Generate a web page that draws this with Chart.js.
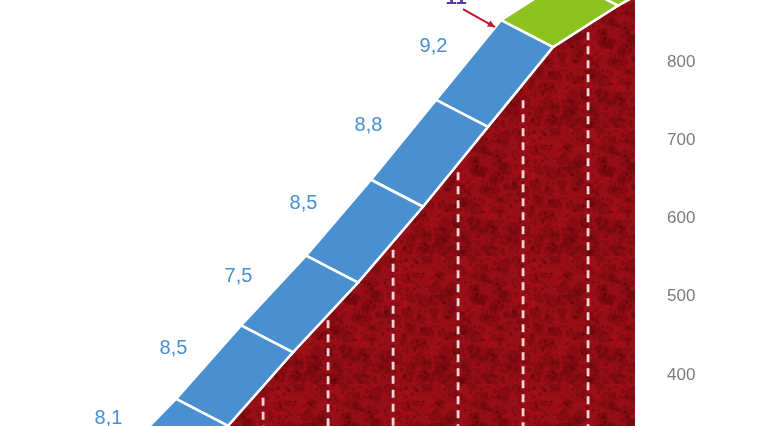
<!DOCTYPE html>
<html>
<head>
<meta charset="utf-8">
<title>Perfil</title>
<script src="https://cdn.jsdelivr.net/npm/chart.js@4.4.1/dist/chart.umd.min.js"></script>
<style>
  html, body { margin: 0; padding: 0; background: #fff; }
  canvas { display: block; }
</style>
</head>
<body>
<canvas id="profile" width="760" height="426"></canvas>
<script>
// ---------- Data ----------

// km marks along the climb and altitude (m) at each mark
const kmMarks = [3, 4, 5, 6, 7, 8, 9, 10, 11];
const altitudes = [250, 335, 429, 518, 615, 717, 819, 872, 918];

// gradient (%) written next to each km block, null = not visible
const gradientLabels = ['8,1', '8,5', '7,5', '8,5', '8,8', '9,2', null, null];
// block colour group: 'b' = blue, 'g' = green
const blockGroups = ['b', 'b', 'b', 'b', 'b', 'b', 'g', 'g'];

// dashed marker lines inside the red face: position (km) and top altitude (m)
const markerKm = [4.54, 5.54, 6.54, 7.54, 8.54, 9.54];
const markerTop = [371, 470, 560, 659, 751, 838];

// altitude tick labels on the right
const altTicks = [400, 500, 600, 700, 800];

// ---------- Styling / view ----------

const X_MIN = 0.492;
const X_MAX = 10.262;
const Y_MIN = 334.8;
const Y_MAX = 879.2;

// depth of the 3D band, in data units (km back, metres up)
const BAND_DX = 0.8;
const BAND_DY = 34.5;

const BLUE = '#4a8fd0';
const GREEN = '#8dc21f';

function makeTexture() {
  const size = 128;
  const c = document.createElement('canvas');
  c.width = size;
  c.height = size;
  const g = c.getContext('2d');
  g.fillStyle = '#960e16';
  g.fillRect(0, 0, size, size);
  let seed = 11;
  const next = () => (seed = (seed * 16807) % 2147483647) / 2147483647;
  // soft large blotches, then fine grain
  for (let i = 0; i < 260; i++) {
    const x = next() * size, y = next() * size, r = 2 + next() * 5;
    g.fillStyle = next() < 0.6 ? 'rgba(55,0,4,0.16)' : 'rgba(190,22,32,0.14)';
    g.beginPath();
    g.arc(x, y, r, 0, Math.PI * 2);
    g.fill();
  }
  for (let i = 0; i < 1200; i++) {
    const x = next() * size, y = next() * size, r = 0.4 + next() * 1.3;
    g.fillStyle = next() < 0.55 ? 'rgba(50,0,4,0.22)' : 'rgba(200,30,38,0.16)';
    g.beginPath();
    g.arc(x, y, r, 0, Math.PI * 2);
    g.fill();
  }
  return g.createPattern(c, 'repeat');
}

// ---------- Datasets ----------

const datasets = [];

// 3D band blocks (on top)
for (let i = 0; i < kmMarks.length - 1; i++) {
  const a = { x: kmMarks[i], y: altitudes[i] };
  const b = { x: kmMarks[i + 1], y: altitudes[i + 1] };
  datasets.push({
    data: [a, b,
      { x: b.x - BAND_DX, y: b.y + BAND_DY },
      { x: a.x - BAND_DX, y: a.y + BAND_DY },
      a],
    fill: 'shape',
    backgroundColor: blockGroups[i] === 'g' ? GREEN : BLUE,
    borderColor: '#ffffff',
    borderWidth: 2.6,
    borderJoinStyle: 'miter',
    pointRadius: 0,
    order: 1
  });
}

// dashed km markers
markerKm.forEach((km, i) => {
  datasets.push({
    data: [{ x: km, y: markerTop[i] }, { x: km, y: Y_MIN - 20 }],
    borderColor: 'rgba(255,230,232,0.92)',
    borderWidth: 2.8,
    borderDash: [8, 6],
    fill: false,
    pointRadius: 0,
    order: 2
  });
});

// red profile face
datasets.push({
  data: kmMarks.map((km, i) => ({ x: km, y: altitudes[i] })),
  fill: 'start',
  backgroundColor: makeTexture(),
  borderColor: '#ffffff',
  borderWidth: 2,
  pointRadius: 0,
  order: 3
});

// ---------- Text plugin ----------

const profileText = {
  id: 'profileText',
  afterDatasetsDraw(chart) {
    const { ctx, scales } = chart;
    const xs = scales.x, ys = scales.y;
    ctx.save();

    // gradient labels
    ctx.font = '20px "Liberation Sans", Arial, sans-serif';
    ctx.fillStyle = BLUE;
    ctx.textAlign = 'center';
    ctx.textBaseline = 'middle';
    gradientLabels.forEach((txt, i) => {
      if (!txt) return;
      const mx = (kmMarks[i] + kmMarks[i + 1]) / 2 - BAND_DX;
      const my = (altitudes[i] + altitudes[i + 1]) / 2 + BAND_DY;
      ctx.fillText(txt, xs.getPixelForValue(mx) - 35, ys.getPixelForValue(my) - 14);
    });

    // summit annotation arrow (cut by the frame)
    const ax = xs.getPixelForValue(kmMarks[6] - BAND_DX);
    const ay = ys.getPixelForValue(altitudes[6] + BAND_DY);
    const x0 = ax - 38, y0 = ay - 11, x1 = ax - 6, y1 = ay + 7;
    ctx.strokeStyle = '#c4162e';
    ctx.fillStyle = '#c4162e';
    ctx.lineWidth = 2;
    ctx.beginPath();
    ctx.moveTo(x0, y0);
    ctx.lineTo(x1, y1);
    ctx.stroke();
    const ang = Math.atan2(y1 - y0, x1 - x0);
    ctx.beginPath();
    ctx.moveTo(x1, y1);
    ctx.lineTo(x1 - 8 * Math.cos(ang - 0.45), y1 - 8 * Math.sin(ang - 0.45));
    ctx.lineTo(x1 - 8 * Math.cos(ang + 0.45), y1 - 8 * Math.sin(ang + 0.45));
    ctx.closePath();
    ctx.fill();

    ctx.font = 'bold 20px "Liberation Sans", Arial, sans-serif';
    ctx.fillStyle = '#5b3a9a';
    ctx.textBaseline = 'alphabetic';
    ctx.fillText('11', ax - 45, ay - 16);

    ctx.restore();
  }
};

// ---------- Chart ----------

const ctx = document.getElementById('profile').getContext('2d');
new Chart(ctx, {
  type: 'line',
  data: { datasets },
  options: {
    responsive: false,
    animation: false,
    events: [],
    layout: { padding: 0 },
    elements: { line: { tension: 0 }, point: { radius: 0 } },
    plugins: {
      legend: { display: false },
      tooltip: { enabled: false }
    },
    scales: {
      x: { type: 'linear', min: X_MIN, max: X_MAX, display: false },
      y: {
        type: 'linear',
        position: 'right',
        min: Y_MIN,
        max: Y_MAX,
        grid: { display: false, drawTicks: false },
        border: { display: false },
        afterBuildTicks: (scale) => {
          scale.ticks = altTicks.map((v) => ({ value: v }));
        },
        afterFit: (scale) => {
          scale.width = 125;
          scale.paddingTop = 0;
          scale.paddingBottom = 0;
        },
        ticks: {
          padding: 32,
          color: '#7b7b7b',
          font: { size: 17, family: '"Liberation Sans", Arial, sans-serif' }
        }
      }
    }
  },
  plugins: [profileText]
});
</script>
</body>
</html>
